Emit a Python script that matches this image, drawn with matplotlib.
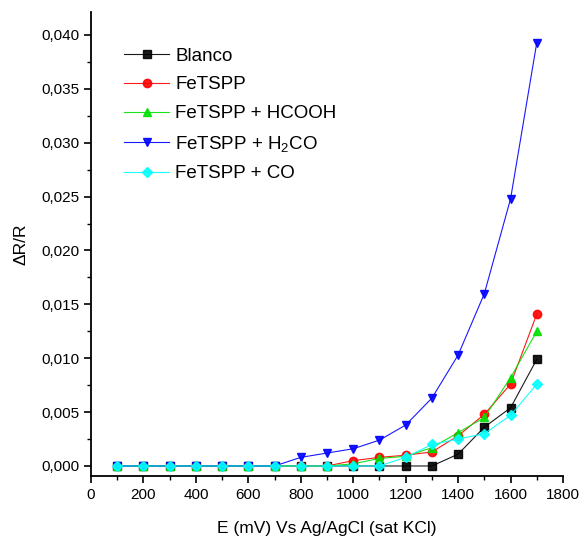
import matplotlib
matplotlib.use("Agg")
import matplotlib.pyplot as plt
from matplotlib.ticker import MultipleLocator, FuncFormatter

plt.rcParams['font.family'] = ['Liberation Sans', 'DejaVu Sans']
plt.rcParams['mathtext.default'] = 'regular'

# Potencial aplicado (mV)
potential = [100, 200, 300, 400, 500, 600, 700, 800, 900,
             1000, 1100, 1200, 1300, 1400, 1500, 1600, 1700]

# Respostas dR/R de cada amostra
blanco = [0, 0, 0, 0, 0, 0, 0, 0, 0,
          0, 0, 0, 0, 0.0011, 0.0036, 0.0054, 0.0099]
fetspp = [0, 0, 0, 0, 0, 0, 0, 0, 0,
          0.0005, 0.0008, 0.0010, 0.0013, 0.0028, 0.0048, 0.0076, 0.0141]
fetspp_hcooh = [0, 0, 0, 0, 0, 0, 0, 0, 0,
                0.0002, 0.0007, 0.0009, 0.0017, 0.0031, 0.0045, 0.0082, 0.0125]
fetspp_h2co = [0, 0, 0, 0, 0, 0, 0, 0.0008, 0.0012,
               0.0016, 0.0024, 0.0038, 0.0063, 0.0103, 0.0160, 0.0248, 0.0393]
fetspp_co = [0, 0, 0, 0, 0, 0, 0, 0, 0,
             0, 0, 0.0008, 0.0020, 0.0025, 0.0030, 0.0047, 0.0076]

series = [
    (blanco, "Blanco", "black", "s"),
    (fetspp, "FeTSPP", "red", "o"),
    (fetspp_hcooh, "FeTSPP + HCOOH", "#00e000", "^"),
    (fetspp_h2co, "FeTSPP + H$_2$CO", "#0000ff", "v"),
    (fetspp_co, "FeTSPP + CO", "cyan", "D"),
]

fig = plt.figure(figsize=(5.86, 5.46), dpi=100)
ax = fig.add_axes([0.1553, 0.1282, 0.8055, 0.8498])

for values, label, color, marker in series:
    ms = 5 if marker == "D" else 6
    ax.plot(potential, values, color=color, linewidth=0.8, alpha=0.9,
            marker=marker, markersize=ms, markerfacecolor=color,
            markeredgecolor=color, label=label)

ax.set_xlim(0, 1800)
ax.set_ylim(-0.00093, 0.04213)
ax.xaxis.set_major_locator(MultipleLocator(200))
ax.xaxis.set_minor_locator(MultipleLocator(100))
ax.yaxis.set_major_locator(MultipleLocator(0.005))
ax.yaxis.set_minor_locator(MultipleLocator(0.0025))
ax.yaxis.set_major_formatter(FuncFormatter(lambda v, p: f"{v:.3f}".replace(".", ",")))

for side in ("top", "right"):
    ax.spines[side].set_visible(False)
for side in ("left", "bottom"):
    ax.spines[side].set_linewidth(1.3)

ax.tick_params(which="major", direction="out", length=5, width=1.2, labelsize=11)
ax.tick_params(which="minor", direction="out", length=3, width=1.0)

ax.set_xlabel("E (mV) Vs Ag/AgCl (sat KCl)", fontsize=12.5, labelpad=14)
ax.set_ylabel("ΔR/R", fontsize=12.5, labelpad=9)

ax.legend(loc="upper left", bbox_to_anchor=(0.035, 0.96), frameon=False,
          fontsize=13.5, handlelength=2.4, handletextpad=0.3, labelspacing=0.62)

fig.savefig("out.png", dpi=100)
